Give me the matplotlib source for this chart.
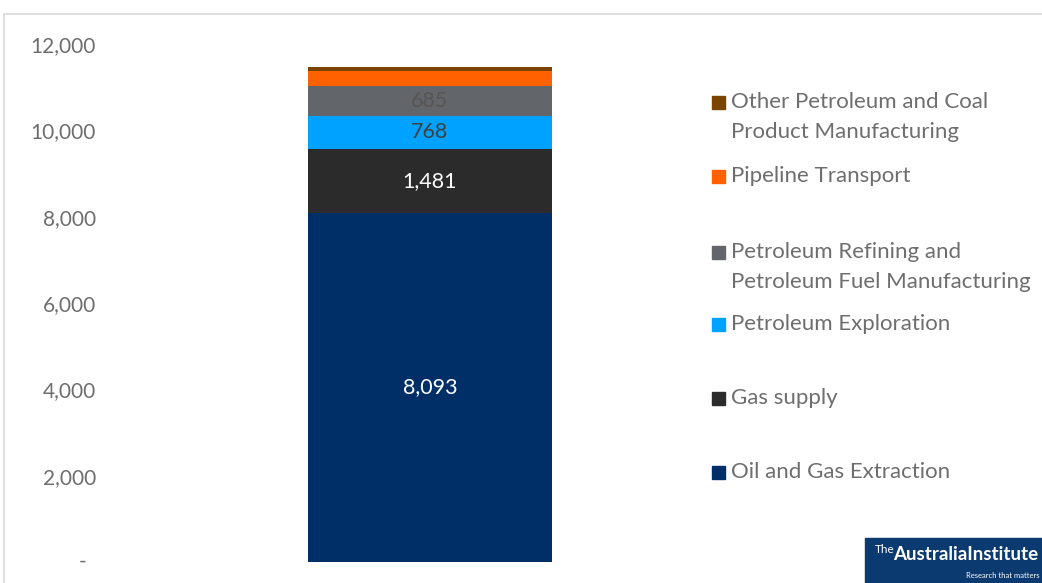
import matplotlib
matplotlib.use("Agg")
import matplotlib.pyplot as plt
from matplotlib.patches import Rectangle

# ---- data ----
series = [
    "Oil and Gas Extraction",
    "Gas supply",
    "Petroleum Exploration",
    "Petroleum Refining and\nPetroleum Fuel Manufacturing",
    "Pipeline Transport",
    "Other Petroleum and Coal\nProduct Manufacturing",
]
values = [8093, 1481, 768, 685, 340, 90]
colors = ["#002F67", "#2B2B2B", "#00A2FF", "#626569", "#FF6000", "#7A4300"]
label_colors = ["white", "white", "#404040", "#555555", None, None]
yticks = [0, 2000, 4000, 6000, 8000, 10000, 12000]
ytick_labels = ["", "2,000", "4,000", "6,000", "8,000", "10,000", "12,000"]

FONT = "Lato"
TXT = "#6E6E6E"
FS = 15.5
W, H = 1042, 583

fig = plt.figure(figsize=(W / 100, H / 100), dpi=100)

# outer chart border
fig.patches.append(Rectangle((4 / W, -0.1), 1.2, (H - 14) / H + 0.1,
                             transform=fig.transFigure, fill=False,
                             edgecolor="#D9D9D9", lw=1.2))

ax = fig.add_axes([125 / W, 21 / H, 610 / W, 518 / H])
bottom = 0
for name, v, c, lc in zip(series, values, colors, label_colors):
    bars = ax.bar([0], [v], bottom=bottom, width=0.4, color=c, label=name)
    if lc is not None:
        ax.bar_label(bars, labels=[f"{v:,}"], label_type="center",
                     color=lc, fontsize=FS, family=FONT)
    bottom += v

ax.set_xlim(-0.5, 0.5)
ax.set_ylim(0, 12000)
ax.set_yticks(yticks)
ax.set_yticklabels(ytick_labels, fontsize=15, color=TXT, family=FONT)
ax.tick_params(axis="y", length=0, pad=21)
ax.set_xticks([])
for s in ax.spines.values():
    s.set_visible(False)
ax.text(86 / W, 21 / H, "-", transform=fig.transFigure, ha="right",
        va="center", fontsize=15, color=TXT, family=FONT)

# manual legend (Excel-like placement)
LFS = 16
entry_y = [472, 398, 324, 252, 176, 102]  # first-line centre, px from top
for name, c, y in zip(series, colors, entry_y):
    fig.patches.append(Rectangle((712 / W, (H - y - 7) / H), 13 / W, 13 / H,
                                 transform=fig.transFigure, color=c))
    fig.text(731 / W, (H - y) / H, name.split("\n")[0], ha="left", va="center",
             fontsize=LFS, color=TXT, family=FONT)
    if "\n" in name:
        fig.text(731 / W, (H - y - 29.5) / H, name.split("\n")[1], ha="left",
                 va="center", fontsize=LFS, color=TXT, family=FONT)

# logo
fig.patches.append(Rectangle((865 / W, 0), 1, 45 / H, transform=fig.transFigure,
                             color="#0A3A70"))
fig.text(875 / W, (H - 544) / H, "The", ha="left", va="top", fontsize=8.5,
         color="white", family=FONT)
fig.text(893 / W, (H - 555) / H, "AustraliaInstitute", ha="left", va="center",
         fontsize=13.5, color="white", family=FONT, fontweight="bold")
fig.text(1040 / W, (H - 575) / H, "Research that matters", ha="right",
         va="center", fontsize=5.5, color="white", family=FONT)

fig.savefig("out.png", dpi=100)
